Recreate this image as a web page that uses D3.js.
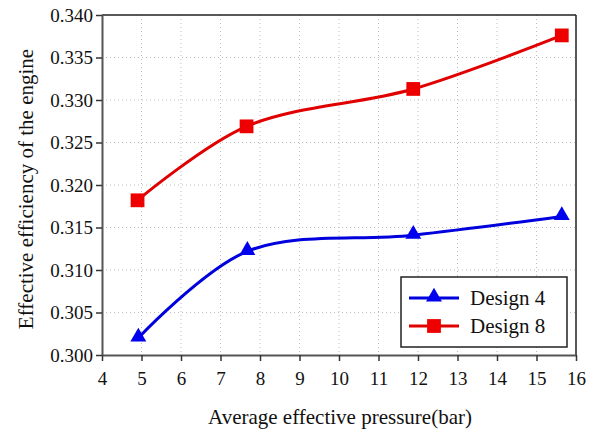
<!DOCTYPE html>
<html>
<head>
<meta charset="utf-8">
<script src="https://cdn.jsdelivr.net/npm/d3@7"></script>
<style>
  body { margin: 0; background: #fff; }
</style>
</head>
<body>
<div id="chart"></div>
<script>
// data
const pressure4 = [4.92, 7.68, 11.88, 15.64];
const design4 = [0.3020, 0.3122, 0.3141, 0.3163];
const pressure8 = [4.90, 7.66, 11.88, 15.64];
const design8 = [0.3182, 0.3269, 0.3313, 0.3376];
const xTicks = [4, 5, 6, 7, 8, 9, 10, 11, 12, 13, 14, 15, 16];
const yTicks = [0.300, 0.305, 0.310, 0.315, 0.320, 0.325, 0.330, 0.335, 0.340];
const seriesNames = ["Design 4", "Design 8"];

const serif = "Tinos, 'Nimbus Roman', 'Nimbus Roman No9 L', FreeSerif, 'Noto Serif', 'DejaVu Serif', 'Liberation Serif', serif";

let width = 598, height = 430;
let margin = {top: 15, right: 22, bottom: 75, left: 102};
let innerW = width - margin.left - margin.right,
    innerH = height - margin.top - margin.bottom;

let svg = d3.select("#chart").append("svg")
    .attr("width", width)
    .attr("height", height)
    .style("font-family", serif);

let g = svg.append("g")
    .attr("transform", "translate(" + margin.left + "," + margin.top + ")");

let x = d3.scaleLinear().domain([4, 16]).range([0, innerW]);
let y = d3.scaleLinear().domain([0.300, 0.340]).range([innerH, 0]);

// dotted grid
g.append("g").selectAll("line.vgrid")
    .data(xTicks.slice(1, -1))
    .enter().append("line")
    .attr("x1", d => x(d)).attr("x2", d => x(d))
    .attr("y1", 0).attr("y2", innerH)
    .style("stroke", "#bdbdbd").style("stroke-width", 1)
    .style("stroke-dasharray", "1,3");

g.append("g").selectAll("line.hgrid")
    .data(yTicks.slice(1, -1))
    .enter().append("line")
    .attr("x1", 0).attr("x2", innerW)
    .attr("y1", d => y(d)).attr("y2", d => y(d))
    .style("stroke", "#bdbdbd").style("stroke-width", 1)
    .style("stroke-dasharray", "1,3");

// frame: top and right
g.append("line").attr("x1", 0).attr("x2", innerW).attr("y1", 0).attr("y2", 0)
    .style("stroke", "#222").style("stroke-width", 1.5);
g.append("line").attr("x1", innerW).attr("x2", innerW).attr("y1", 0).attr("y2", innerH)
    .style("stroke", "#222").style("stroke-width", 1.5);

// axes
let xAxis = g.append("g")
    .attr("transform", "translate(0," + innerH + ")")
    .call(d3.axisBottom(x).tickValues(xTicks).tickSize(6).tickSizeOuter(0).tickPadding(11)
        .tickFormat(d3.format("d")));
let yAxis = g.append("g")
    .call(d3.axisLeft(y).tickValues(yTicks).tickSize(6).tickSizeOuter(0).tickPadding(3)
        .tickFormat(d3.format(".3f")));

[xAxis, yAxis].forEach(function (a) {
    a.attr("font-family", null).attr("font-size", null);
    a.select(".domain").style("stroke", "#555").style("stroke-width", 2);
    a.selectAll(".tick line").style("stroke", "#333").style("stroke-width", 1.5);
    a.selectAll("text").style("fill", "#111").style("font-size", "19px");
});

// axis titles
svg.append("text")
    .attr("x", 340)
    .attr("y", 424)
    .attr("text-anchor", "middle")
    .style("font-size", "21px")
    .style("fill", "#111")
    .text("Average effective pressure(bar)");

svg.append("text")
    .attr("transform", "translate(33," + 189 + ") rotate(-90)")
    .attr("text-anchor", "middle")
    .style("font-size", "21px")
    .style("fill", "#111")
    .text("Effective efficiency of the engine");

// lines
let line = d3.line()
    .x(d => x(d[0]))
    .y(d => y(d[1]))
    .curve(d3.curveCatmullRom.alpha(0.5));

let data4 = d3.zip(pressure4, design4);
let data8 = d3.zip(pressure8, design8);

g.append("path").datum(data4)
    .attr("d", line)
    .style("fill", "none").style("stroke", "#0000dd").style("stroke-width", 3);
g.append("path").datum(data8)
    .attr("d", line)
    .style("fill", "none").style("stroke", "#e00000").style("stroke-width", 3);

let tri = d3.symbol().type(d3.symbolTriangle).size(110);
let sq = d3.symbol().type(d3.symbolSquare).size(190);

g.selectAll("path.tri").data(data4).enter().append("path")
    .attr("class", "tri")
    .attr("d", tri)
    .attr("transform", d => "translate(" + x(d[0]) + "," + (y(d[1]) - 1) + ")")
    .style("fill", "#0000ee");
g.selectAll("path.sq").data(data8).enter().append("path")
    .attr("class", "sq")
    .attr("d", sq)
    .attr("transform", d => "translate(" + x(d[0]) + "," + y(d[1]) + ")")
    .style("fill", "#ee0000");

// legend
let legend = svg.append("g").attr("transform", "translate(401,277)");
legend.append("rect")
    .attr("width", 166).attr("height", 70)
    .style("fill", "#fff").style("stroke", "#222").style("stroke-width", 1.5);

let legendItems = [
    {name: seriesNames[0], color: "#0000dd", fill: "#0000ee", sym: tri, dy: 21},
    {name: seriesNames[1], color: "#e00000", fill: "#ee0000", sym: sq, dy: 49}
];
legendItems.forEach(function (d) {
    legend.append("line")
        .attr("x1", 8).attr("x2", 58).attr("y1", d.dy).attr("y2", d.dy)
        .style("stroke", d.color).style("stroke-width", 3);
    legend.append("path")
        .attr("d", d.sym)
        .attr("transform", "translate(33," + (d.dy - (d.sym === tri ? 1 : 0)) + ")")
        .style("fill", d.fill);
    legend.append("text")
        .attr("x", 69).attr("y", d.dy + 7)
        .style("font-size", "21px")
        .style("fill", "#111")
        .text(d.name);
});
</script>
</body>
</html>
